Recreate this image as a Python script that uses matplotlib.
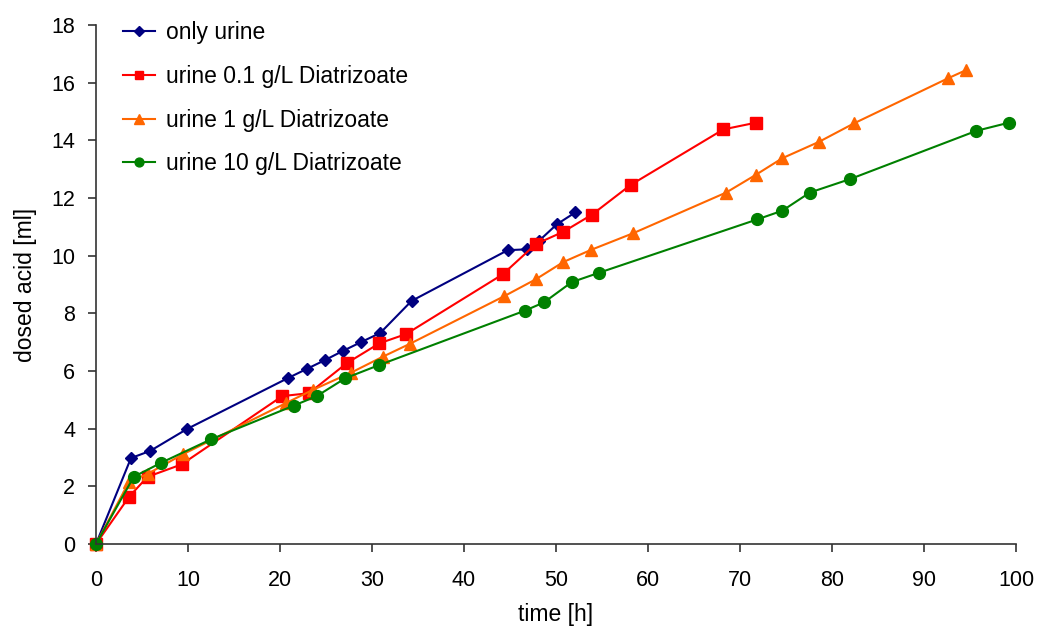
import numpy as np
import matplotlib
matplotlib.use('Agg')
import matplotlib.pyplot as plt

plt.rcParams['font.family'] = ['Liberation Sans', 'DejaVu Sans']

# only urine
t_urine = [0, 3.8, 5.9, 9.9, 20.9, 22.9, 24.9, 26.8, 28.8, 30.9, 34.3, 44.75, 46.8, 48.1, 50.1, 52.1]
a_urine = [0, 2.98, 3.23, 3.99, 5.76, 6.07, 6.38, 6.69, 7.0, 7.32, 8.43, 10.19, 10.22, 10.5, 11.09, 11.5]

# urine 0.1 g/L Diatrizoate
t_01 = [0, 3.6, 5.6, 9.3, 20.25, 23.15, 27.25, 30.8, 33.7, 44.2, 47.8, 50.8, 53.9, 58.1, 68.2, 71.7]
a_01 = [0, 1.64, 2.33, 2.76, 5.13, 5.23, 6.27, 6.96, 7.28, 9.35, 10.4, 10.83, 11.42, 12.45, 14.38, 14.61]

# urine 1 g/L Diatrizoate
t_1 = [0, 3.6, 5.6, 9.5, 20.6, 23.6, 27.7, 31.2, 34.1, 44.4, 47.8, 50.8, 53.8, 58.4, 68.5, 71.7, 74.6, 78.6, 82.4, 92.6, 94.6]
a_1 = [0, 2.16, 2.43, 3.12, 4.88, 5.35, 5.94, 6.5, 6.94, 8.6, 9.18, 9.78, 10.2, 10.78, 12.19, 12.8, 13.38, 13.95, 14.59, 16.15, 16.44]

# urine 10 g/L Diatrizoate
t_10 = [0, 4.1, 7.1, 12.5, 21.5, 24.0, 27.1, 30.8, 46.6, 48.7, 51.7, 54.7, 71.9, 74.6, 77.6, 82.0, 95.7, 99.2]
a_10 = [0, 2.33, 2.82, 3.63, 4.8, 5.13, 5.75, 6.21, 8.09, 8.38, 9.08, 9.41, 11.26, 11.56, 12.19, 12.66, 14.33, 14.61]

fig = plt.figure(figsize=(10.37, 6.26), dpi=100)
ax = fig.add_axes([96/1037, 1 - 544/626, 920/1037, 519/626])

ax.plot(t_urine, a_urine, color='#000080', marker='D', markersize=6.5, lw=1.5, label='only urine')
ax.plot(t_01, a_01, color='#FF0000', marker='s', markersize=8.5, lw=1.5, label='urine 0.1 g/L Diatrizoate')
ax.plot(t_1, a_1, color='#FF6600', marker='^', markersize=9, lw=1.5, label='urine 1 g/L Diatrizoate')
ax.plot(t_10, a_10, color='#008000', marker='o', markersize=8.5, lw=1.5, label='urine 10 g/L Diatrizoate')

ax.set_xlim(0, 100)
ax.set_ylim(0, 18)
ax.set_xticks(np.arange(0, 101, 10))
ax.set_yticks(np.arange(0, 19, 2))
ax.spines['top'].set_visible(False)
ax.spines['right'].set_visible(False)
for s in ['left', 'bottom']:
    ax.spines[s].set_linewidth(1.2)
    ax.spines[s].set_color('#333333')
ax.tick_params(labelsize=15.5, length=6, width=1.2, color='#333333')
ax.tick_params(axis='x', pad=13)
ax.tick_params(axis='y', pad=9)
ax.set_xlabel('time [h]', fontsize=16.5, labelpad=8)
ax.set_ylabel('dosed acid [ml]', fontsize=16.5, labelpad=10)
for line in ax.lines:
    line.set_clip_on(False)

leg = ax.legend(loc='upper left', bbox_to_anchor=(0.0293, 1.007), frameon=False, fontsize=16.5,
                borderpad=0, borderaxespad=0, labelspacing=0.9, handlelength=1.4,
                handletextpad=0.48, markerscale=0.75)

fig.savefig('out.png', dpi=100)
